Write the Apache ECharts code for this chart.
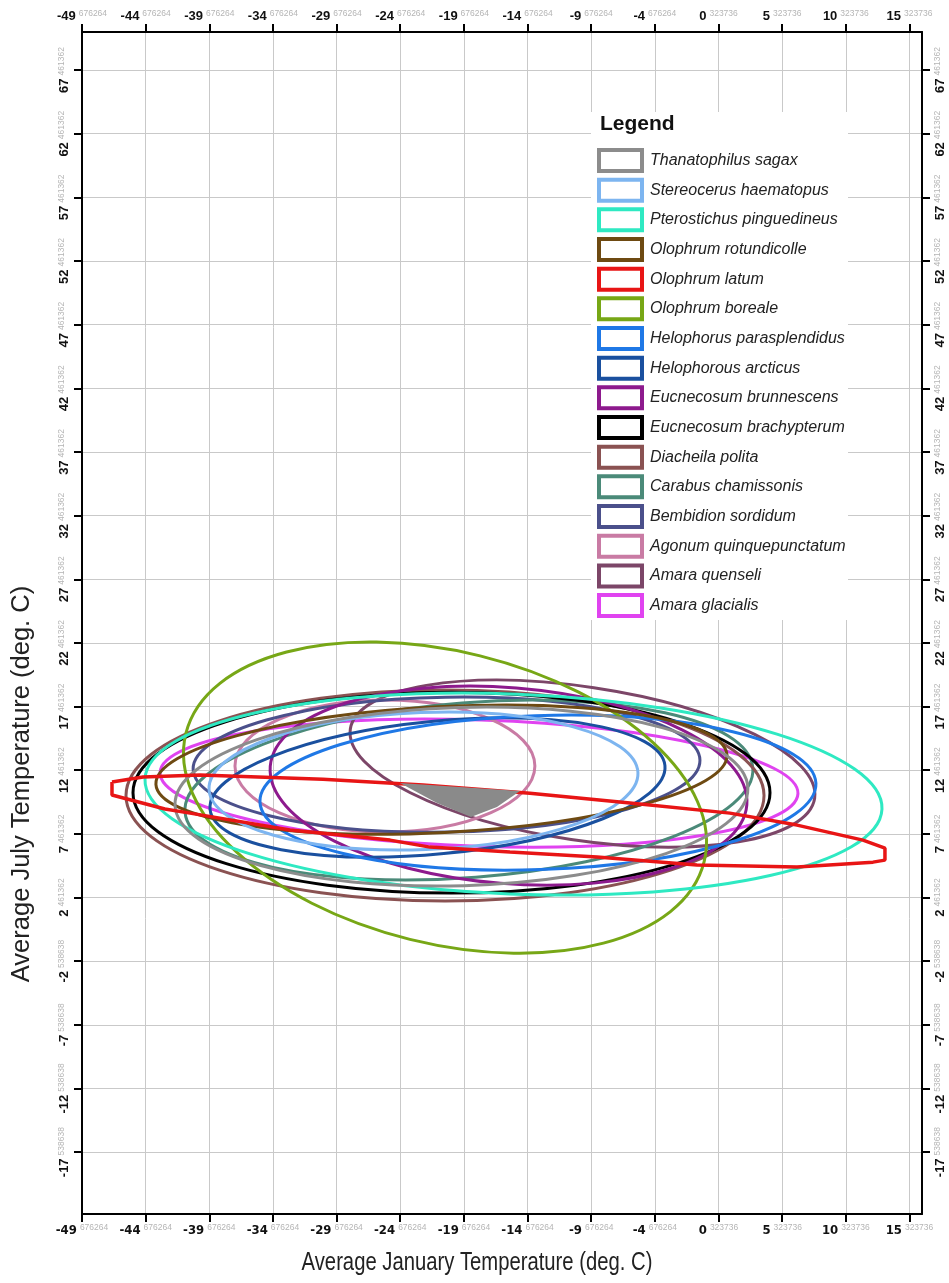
<!DOCTYPE html>
<html>
<head>
<meta charset="utf-8">
<title>Climate envelopes of beetle species</title>
<script src="https://cdn.jsdelivr.net/npm/echarts@6/dist/echarts.min.js"></script>
<style>
  html, body { margin: 0; padding: 0; background: #ffffff; }
  #chart { width: 949px; height: 1283px; }
</style>
</head>
<body>
<div id="chart"></div>
<script>
// Grid ticks (deg. C) on the January (x) and July (y) axes
const janTicks = [-49.676264, -44.676264, -39.676264, -34.676264, -29.676264, -24.676264,
  -19.676264, -14.676264, -9.676264, -4.676264, 0.323736, 5.323736, 10.323736, 15.323736];
const julTicks = [-17.538638, -12.538638, -7.538638, -2.538638, 2.461362, 7.461362, 12.461362,
  17.461362, 22.461362, 27.461362, 32.461362, 37.461362, 42.461362, 47.461362, 52.461362,
  57.461362, 62.461362, 67.461362];

// Species, in legend order
const species = [
  'Thanatophilus sagax', 'Stereocerus haematopus', 'Pterostichus pinguedineus',
  'Olophrum rotundicolle', 'Olophrum latum', 'Olophrum boreale',
  'Helophorus parasplendidus', 'Helophorous arcticus', 'Eucnecosum brunnescens',
  'Eucnecosum brachypterum', 'Diacheila polita', 'Carabus chamissonis',
  'Bembidion sordidum', 'Agonum quinquepunctatum', 'Amara quenseli', 'Amara glacialis'
];

// Elliptical climate envelopes: centre, half-extent along each axis (deg. C), tilt (degrees)
const centerJan = [-19.87, -22.85, -15.78, -21.44, null, -21.16, -13.86, -21.75, -16.17, -20.65, -21.16, -19.28, -21.04, -25.88, -10.36, -18.49];
const centerJul = [10.39, 11.61, 10.59, 12.51, null, 10.31, 10.70, 11.10, 11.25, 10.70, 10.47, 10.90, 12.90, 12.79, 12.98, 11.45];
const halfJan   = [22.51, 16.86, 28.97, 22.46, null, 20.97, 21.85, 17.95, 18.78, 25.02, 25.06, 22.37, 19.91, 11.78, 18.44, 25.07];
const halfJul   = [7.00, 5.38, 7.85, 4.94, null, 11.47, 6.05, 5.21, 7.70, 7.89, 8.29, 6.87, 5.30, 5.18, 6.03, 4.96];
const tiltDeg   = [1.7, 2.2, -2.35, 2.95, null, -13.9, 1.9, 5.5, -4.6, 0, 0, 4.45, 1, 0, -8.5, -1.9];

// Olophrum latum envelope outline (polygon vertices)
const latumJan = [-47.32, -44.88, -40.41, -30.75, -22.89, -14.49, -6.63, 1.22, 6.49, 11.67, 13.40,
  13.40, 12.46, 6.49, -1.37, -9.22, -16.06, -22.34, -25.48, -33.34, -41.19, -43.16, -47.32, -47.32];
const latumJul = [11.53, 11.92, 12.08, 11.76, 11.29, 10.66, 9.88, 9.09, 8.15, 6.97, 6.34,
  5.40, 5.24, 4.85, 5.01, 5.64, 6.03, 6.42, 6.97, 7.76, 9.09, 9.41, 10.51, 11.53];

// Mutual climatic range (area shared by all envelopes)
const overlapJan = [-24.70, -15.27, -17.08, -19.12, -21.79];
const overlapJul = [11.45, 10.82, 9.57, 8.78, 9.88];

const palette = ['#8c8c8c', '#7db5f0', '#2ee9c2', '#6e4a12', '#e81515', '#77a716', '#1f78e6', '#1a509f',
  '#8d1a8d', '#000000', '#8a5252', '#4b8a79', '#4b508b', '#c97ba4', '#7c4668', '#e043f0'];

const janMin = -49.676264, janMax = 16.31;
const julMin = -22.40, julMax = 70.45;

function tickLabel(v) {
  const parts = Number(v).toFixed(6).split('.');
  return '{i|' + parts[0] + '}{f|' + parts[1] + '}';
}

function richFor(family) {
  return {
    i: { fontFamily: family, fontWeight: 'bold', fontSize: 13, color: '#111111', lineHeight: 15 },
    f: { fontFamily: 'Liberation Sans', fontSize: 8.5, color: '#b5b5b5', verticalAlign: 'top', padding: [0, 0, 0, 3] }
  };
}

function axisCommon(ticks, family, margin, rotate) {
  return {
    axisLine: { show: true, onZero: false, lineStyle: { color: '#000', width: 2 } },
    axisTick: { show: true, inside: false, length: 8, customValues: ticks, lineStyle: { color: '#000', width: 2 } },
    axisLabel: { customValues: ticks, formatter: tickLabel, rich: richFor(family), margin: margin, rotate: rotate },
    splitLine: { show: false }
  };
}

const gridLine = { show: true, lineStyle: { color: '#c9c9c9', width: 1 } };

const xBottom = Object.assign({ type: 'value', position: 'bottom', min: janMin, max: janMax },
  axisCommon(janTicks, "'Liberation Sans Narrow', 'DejaVu Sans Condensed', 'Liberation Sans'", 9, 0));
xBottom.splitLine = gridLine;
const xTop = Object.assign({ type: 'value', position: 'top', min: janMin, max: janMax },
  axisCommon(janTicks, 'Liberation Sans', 8, 0));
const yLeft = Object.assign({ type: 'value', position: 'left', min: julMin, max: julMax },
  axisCommon(julTicks, 'Liberation Sans', 10, 90));
yLeft.splitLine = gridLine;
const yRight = Object.assign({ type: 'value', position: 'right', min: julMin, max: julMax },
  axisCommon(julTicks, 'Liberation Sans', 11, 90));

function ellipseSeries(i) {
  return {
    type: 'custom',
    name: species[i],
    coordinateSystem: 'cartesian2d',
    xAxisIndex: 0, yAxisIndex: 0,
    data: [[centerJan[i], centerJul[i], halfJan[i], halfJul[i], tiltDeg[i]]],
    renderItem: function (params, api) {
      const c = api.coord([api.value(0), api.value(1)]);
      const s = api.size([api.value(2), api.value(3)]);
      return {
        type: 'ellipse',
        x: c[0], y: c[1],
        rotation: api.value(4) * Math.PI / 180,
        shape: { cx: 0, cy: 0, rx: s[0], ry: s[1] },
        style: { fill: 'none', stroke: palette[i], lineWidth: 3 }
      };
    },
    silent: true,
    z: 2
  };
}

const series = [];
// first legend entry is drawn on top, so add in reverse
for (let i = species.length - 1; i >= 0; i--) {
  if (i === 4) {
    series.push({
      type: 'line',
      name: species[i],
      data: latumJan.map((x, k) => [x, latumJul[k]]),
      showSymbol: false,
      symbol: 'none',
      smooth: false,
      lineStyle: { color: palette[i], width: 3.5 },
      itemStyle: { color: palette[i] },
      silent: true,
      z: 2
    });
  } else {
    series.push(ellipseSeries(i));
  }
}

series.push({
  type: 'custom',
  name: 'overlap',
  coordinateSystem: 'cartesian2d',
  data: overlapJan.map((x, k) => [x, overlapJul[k]]),
  renderItem: function (params, api) {
    if (params.dataIndex !== 0) return null;
    return {
      type: 'polygon',
      shape: { points: overlapJan.map((x, k) => api.coord([x, overlapJul[k]])) },
      style: { fill: '#8a8a8a', stroke: 'none' }
    };
  },
  silent: true,
  z: 3
});

const chart = echarts.init(document.getElementById('chart'), null, { renderer: 'canvas' });
chart.setOption({
  animation: false,
  backgroundColor: '#ffffff',
  grid: { left: 82, top: 32, width: 840, height: 1182, containLabel: false },
  xAxis: [xBottom, xTop],
  yAxis: [yLeft, yRight],
  legend: {
    orient: 'vertical',
    left: 597, top: 148,
    padding: 0,
    itemWidth: 43, itemHeight: 21, itemGap: 4.67,
    selectedMode: false,
    icon: 'rect',
    textStyle: { fontFamily: 'Liberation Sans', fontStyle: 'italic', fontSize: 16, color: '#222222', padding: [0, 0, 0, 3] },
    data: species.map((n, i) => ({ name: n, itemStyle: { color: '#ffffff', borderColor: palette[i], borderWidth: 4 } })),
    z: 5
  },
  graphic: [
    { type: 'rect', z: 4, shape: { x: 591, y: 112, width: 257, height: 508 }, style: { fill: '#ffffff' }, silent: true },
    { type: 'text', z: 6, x: 600, y: 114, style: { text: 'Legend', fontFamily: 'Liberation Sans', fontWeight: 'bold', fontSize: 21, fill: '#111111' }, silent: true },
    { type: 'text', z: 6, x: 477, y: 1263, scaleX: 0.81, style: { text: 'Average January Temperature (deg. C)', fontFamily: 'Liberation Sans', fontSize: 25, fill: '#222222', align: 'center', verticalAlign: 'middle' }, silent: true },
    { type: 'text', z: 6, x: 22, y: 784, rotation: Math.PI / 2, style: { text: 'Average July Temperature (deg. C)', fontFamily: 'Liberation Sans', fontSize: 25.5, fill: '#222222', align: 'center', verticalAlign: 'middle' }, silent: true }
  ],
  series: series
});
</script>
</body>
</html>
